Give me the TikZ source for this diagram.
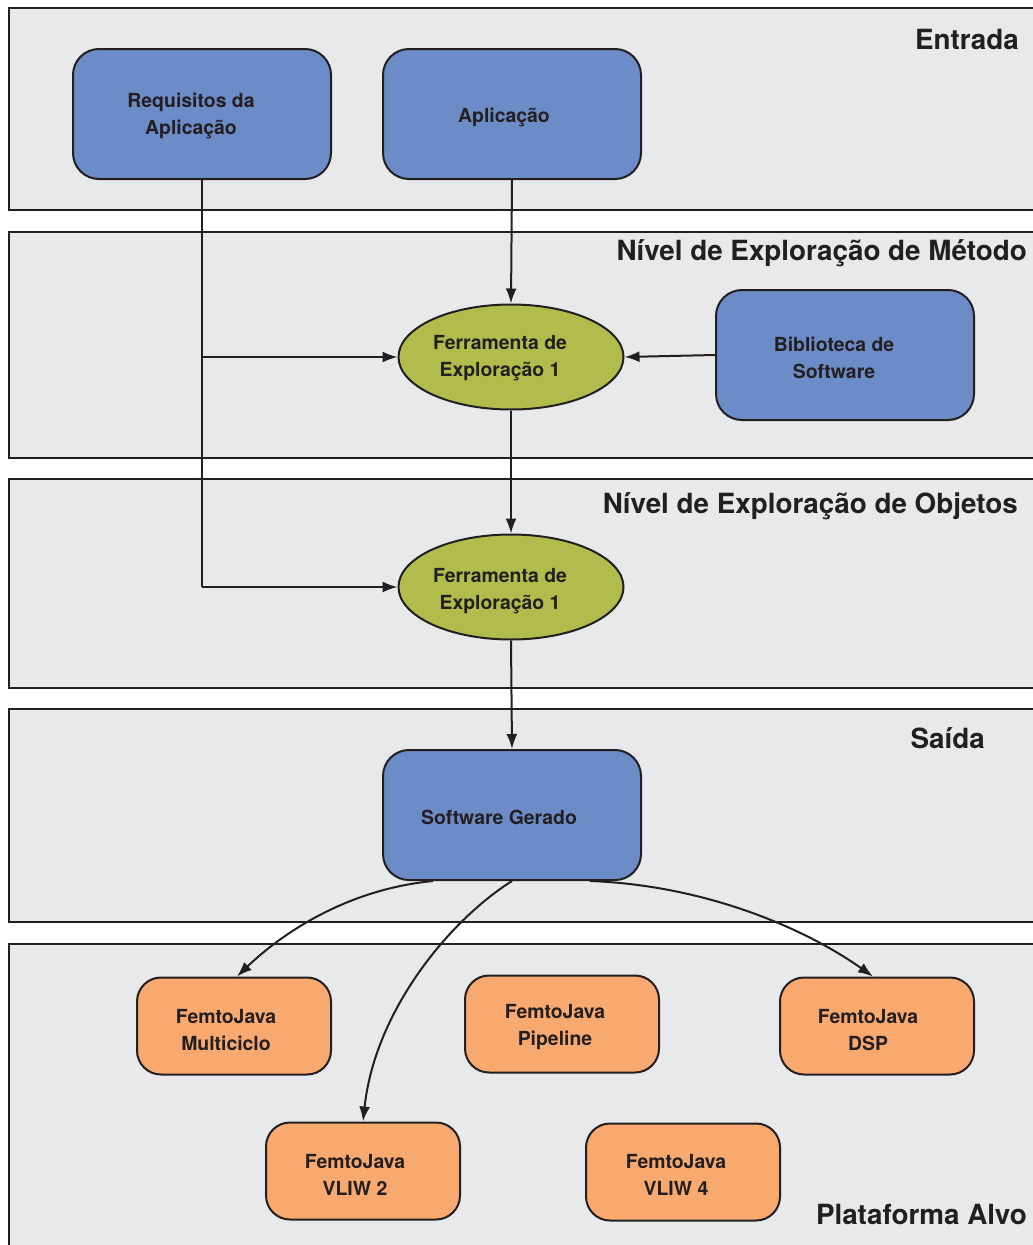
\documentclass[tikz,border=0pt]{standalone}
\usepackage{fontspec}
\setmainfont{TeX Gyre Heros}
\usetikzlibrary{arrows.meta,shapes.geometric}
\definecolor{bandgray}{RGB}{232,233,235}
\definecolor{inkdark}{RGB}{35,31,32}
\definecolor{boxblue}{RGB}{108,140,200}
\definecolor{ellgreen}{RGB}{178,188,76}
\definecolor{boxorange}{RGB}{248,169,112}
\tikzset{
  bandfill/.style={fill=bandgray},
  bandline/.style={draw=inkdark, line width=2.4pt},
  bandtitle/.style={anchor=east, inner sep=0pt, font=\fontsize{27.8}{32}\selectfont\bfseries, text=inkdark},
  boxbase/.style={draw=inkdark, line width=2pt, rounded corners=26pt, inner sep=0pt},
  bluebox/.style={boxbase, fill=boxblue, minimum width=258pt, minimum height=130pt},
  orangebox/.style={boxbase, fill=boxorange, minimum width=194pt, minimum height=97pt, rounded corners=24pt},
  ellnode/.style={ellipse, draw=inkdark, line width=2pt, fill=ellgreen, minimum width=225pt, minimum height=105pt, inner sep=0pt},
  txt/.style={align=center, inner sep=0pt, text=inkdark, font=\fontsize{19.4}{26.5}\selectfont\bfseries},
  conn/.style={draw=inkdark, line width=2pt, -{Latex[length=15pt,width=11pt]}},
  plain/.style={draw=inkdark, line width=2pt},
}
\begin{document}
\begin{tikzpicture}[x=1pt,y=-1pt]
\useasboundingbox (0,0) rectangle (1033,1245);
\clip (0,0) rectangle (1033,1245);
\fill[white] (0,0) rectangle (1033,1245);
% bands
\fill[bandfill] (9,8) rectangle (1045,210);
\draw[bandline] (1045,8) -- (9,8) -- (9,210) -- (1045,210);
\fill[bandfill] (9,232) rectangle (1045,458);
\draw[bandline] (1045,232) -- (9,232) -- (9,458) -- (1045,458);
\fill[bandfill] (9,479) rectangle (1045,688);
\draw[bandline] (1045,479) -- (9,479) -- (9,688) -- (1045,688);
\fill[bandfill] (9,709) rectangle (1045,922);
\draw[bandline] (1045,709) -- (9,709) -- (9,922) -- (1045,922);
\fill[bandfill] (9,944) rectangle (1045,1260);
\draw[bandline] (1045,944) -- (9,944) -- (9,1260);
% band titles
\node[bandtitle] (t1) at (1019,39) {Entrada};
\node[bandtitle] (t2) at (1027,253) {Nível de Exploração de Método};
\node[bandtitle] (t3) at (1018,506) {Nível de Exploração de Objetos};
\node[bandtitle] (t4) at (985,738) {Saída};
\node[bandtitle] (t5) at (1027,1214) {Plataforma Alvo};
% boxes
\node[bluebox] (req) at (202,114) {};
\node[txt] (reqt) at (191,116) {Requisitos da\\Aplicação};
\node[bluebox] (app) at (512,114) {};
\node[txt] (appt) at (504,117) {Aplicação};
\node[ellnode] (e1) at (511,357) {};
\node[txt] (e1t) at (500,358) {Ferramenta de\\Exploração 1};
\node[bluebox] (bib) at (845,355) {};
\node[txt] (bibt) at (834,358) {Biblioteca de\\Software};
\node[ellnode] (e2) at (511,587) {};
\node[txt] (e2t) at (500,591) {Ferramenta de\\Exploração 1};
\node[bluebox] (sg) at (512,815) {};
\node[txt] (sgt) at (499,817) {Software Gerado};
\node[orangebox] (mc) at (234,1026) {};
\node[txt] (mct) at (226,1030) {FemtoJava\\Multiciclo};
\node[orangebox] (pl) at (562,1024) {};
\node[txt] (plt) at (555,1027) {FemtoJava\\Pipeline};
\node[orangebox] (dsp) at (877,1026) {};
\node[txt] (dspt) at (868,1030) {FemtoJava\\DSP};
\node[orangebox] (v2) at (363,1171) {};
\node[txt] (v2t) at (355,1175) {FemtoJava\\VLIW 2};
\node[orangebox] (v4) at (683,1172) {};
\node[txt] (v4t) at (676,1175) {FemtoJava\\VLIW 4};
% connectors
\coordinate (rq1) at (req.south |- e1.west);
\coordinate (rq2) at (req.south |- e2.west);
\draw[plain] (req.south) -- (rq2);
\draw[conn] (rq1) -- (e1.west);
\draw[conn] (rq2) -- (e2.west);
\draw[conn] (app.south) -- (e1.north);
\draw[conn] (bib.west) -- (e1.east);
\draw[conn] (e1.south) -- (e2.north);
\draw[conn] (e2.south) -- (sg.north);
\draw[conn] ([xshift=-79pt]sg.south) .. controls (340,890) and (275,940) .. ([xshift=3pt]mc.north);
\draw[conn] (sg.south) .. controls (450,920) and (375,1010) .. (v2.north);
\draw[conn] ([xshift=78pt]sg.south) .. controls (700,885) and (800,925) .. ([xshift=-4pt]dsp.north);
\end{tikzpicture}
\end{document}
